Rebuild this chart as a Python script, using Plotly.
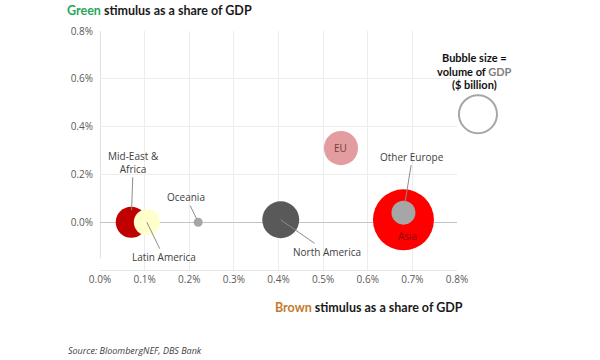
import plotly.graph_objects as go
import math

# ---- data ----
regions = ["Mid-East &<br>Africa", "Latin America", "Oceania", "North America", "EU", "Asia", "Other Europe"]
brown_pct = [0.07, 0.105, 0.22, 0.405, 0.54, 0.68, 0.68]
green_pct = [0.00, 0.00, 0.00, 0.01, 0.31, 0.01, 0.04]
gdp_bn = [8500, 6000, 720, 12100, 10300, 33000, 5100]
colors = ["#c00000", "#ffffcc", "#a6a6a6", "#595959", "#e39da1", "#ff0000", "#a6a6a6"]

legend_bubble_gdp = 12800
legend_bubble_x = 0.847
legend_bubble_y = 0.452

x_ticks = [0.0, 0.1, 0.2, 0.3, 0.4, 0.5, 0.6, 0.7, 0.8]
x_tick_labels = ["0.0%", "0.1%", "0.2%", "0.3%", "0.4%", "0.5%", "0.6%", "0.7%", "0.8%"]
y_ticks = [0.0, 0.2, 0.4, 0.6, 0.8]
y_tick_labels = ["0.0%", "0.2%", "0.4%", "0.6%", "0.8%"]

X_RANGE = [0, 0.8]
Y_RANGE = [-0.2, 0.8]

# diameter scale (px per sqrt($bn))
K = 61 / math.sqrt(max(gdp_bn))
sizes = [K * math.sqrt(v) for v in gdp_bn]

fig = go.Figure()
for i in range(len(regions)):
    fig.add_trace(go.Scatter(
        x=[brown_pct[i]], y=[green_pct[i]], mode="markers",
        marker=dict(size=sizes[i], color=colors[i], line=dict(width=0), opacity=1),
        hoverinfo="skip", showlegend=False, cliponaxis=False))

lab_font = dict(family="Open Sans", size=10, color="#404040")
ann = []
# label offsets: (ax, ay, standoff)
offsets = {
    0: (2, -60, 12),
    1: (17, 35, 0),
    2: (-12, -25, 4),
    3: (46, 32, 0),
    6: (9, -56, 11),
}
for i, (ax, ay, so) in offsets.items():
    ann.append(dict(x=brown_pct[i], y=green_pct[i], xref="x", yref="y", text=regions[i],
                    showarrow=True, arrowhead=0, arrowwidth=1, arrowcolor="#8c8c8c",
                    ax=ax, ay=ay, standoff=so, font=lab_font))
ann.append(dict(x=brown_pct[4], y=green_pct[4], xref="x", yref="y", text=regions[4],
                showarrow=False, font=dict(family="Open Sans", size=10, color="#7a3a3c")))
ann.append(dict(x=brown_pct[5], y=green_pct[5], xref="x", yref="y", text=regions[5],
                showarrow=False, yshift=-16, xshift=4,
                font=dict(family="Open Sans", size=10, color="#8a0a0a")))

title_font = dict(family="Lato", size=12.5, color="#1a1a1a")
ann.append(dict(xref="paper", yref="paper", x=-0.097, y=1.084, xanchor="left", yanchor="middle",
                text="<b><span style='color:#2aa65a'>Green</span> stimulus as a share of GDP</b>",
                showarrow=False, font=title_font))
ann.append(dict(xref="paper", yref="paper", x=1.022, y=-0.158, xanchor="right", yanchor="middle",
                text="<b><span style='color:#c27c2c'>Brown</span> stimulus as a share of GDP</b>",
                showarrow=False, font=title_font))
ann.append(dict(xref="paper", yref="paper", x=-0.0945, y=-0.337, xanchor="left", yanchor="middle",
                text="<i>Source: BloombergNEF, DBS Bank</i>",
                showarrow=False, font=dict(family="Open Sans", size=9, color="#404040")))
leg_font = dict(family="Lato", size=11, color="#111111")
for txt, py in [("<b>Bubble size =</b>", 57.7),
                ("<b>volume of <span style='color:#808080'>GDP</span></b>", 71.0),
                ("<b>($ billion)</b>", 84.3)]:
    ann.append(dict(xref="paper", yref="paper", x=1.050, y=(270 - py) / 239,
                    xanchor="center", yanchor="middle", text=txt, showarrow=False,
                    font=leg_font, borderpad=0))

# legend reference bubble (outside the plot area, in paper coordinates)
lx = (legend_bubble_x - X_RANGE[0]) / (X_RANGE[1] - X_RANGE[0])
ly = (legend_bubble_y - Y_RANGE[0]) / (Y_RANGE[1] - Y_RANGE[0])
lr = K * math.sqrt(legend_bubble_gdp) / 2
shapes = [
    dict(type="circle", xref="paper", yref="paper", xsizemode="pixel", ysizemode="pixel",
         xanchor=lx, yanchor=ly, x0=-lr, x1=lr, y0=-lr, y1=lr,
         line=dict(color="#a6a6a6", width=2), fillcolor="white", layer="above"),
    # vertical axis line (stops a little above the plot bottom, as in the reference)
    dict(type="line", xref="x", yref="y", x0=0, x1=0, y0=-0.15, y1=Y_RANGE[1],
         line=dict(color="#c4c4c4", width=1), layer="below"),
]

fig.update_layout(
    width=600, height=360,
    margin=dict(l=100, r=143, t=31, b=90),
    paper_bgcolor="white", plot_bgcolor="white",
    annotations=ann, shapes=shapes,
    xaxis=dict(range=X_RANGE, tickvals=x_ticks, ticktext=x_tick_labels,
               showgrid=True, gridcolor="#ececec", gridwidth=1, zeroline=False,
               showline=True, linecolor="#e6e6e6", linewidth=1, mirror=False,
               tickfont=dict(family="Open Sans", size=10, color="#595959"),
               ticks="", fixedrange=True),
    yaxis=dict(range=Y_RANGE, tickvals=y_ticks, ticktext=y_tick_labels,
               showgrid=True, gridcolor="#ececec", gridwidth=1,
               zeroline=True, zerolinecolor="#c4c4c4", zerolinewidth=1,
               showline=False,
               tickfont=dict(family="Open Sans", size=10, color="#595959"),
               ticks="", ticklabelstandoff=6, fixedrange=True),
)

fig.write_html("out.html", config={"displayModeBar": False},
               post_script="document.body.style.margin='0';document.body.style.padding='0';")
